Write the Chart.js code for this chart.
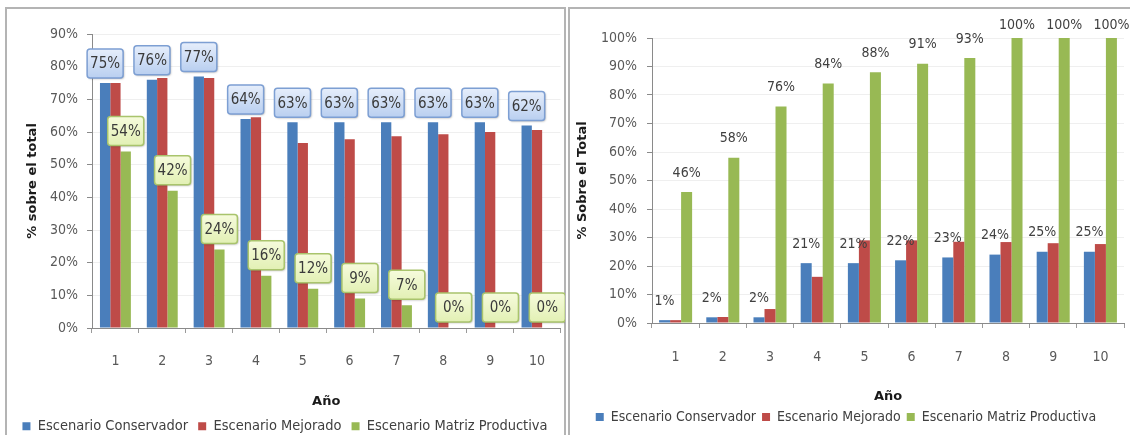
<!DOCTYPE html>
<html>
<head>
<meta charset="utf-8">
<script src="https://cdn.jsdelivr.net/npm/chart.js@4/dist/chart.umd.min.js"></script>
<style>
  html, body { margin: 0; padding: 0; background: #fff; }
  body { width: 1130px; height: 435px; position: relative; overflow: hidden; }
  .marco { position: absolute; border: 2px solid #b4b4b4; box-sizing: border-box; }
  .caja { position: absolute; }
</style>
</head>
<body>
<div class="marco" style="left:5px; top:7px; width:561px; height:440px;"></div>
<div class="marco" style="left:568px; top:7px; width:570px; height:440px;"></div>
<div class="caja" style="left:5px; top:8px; width:560px; height:427px;"><canvas id="graficoIzq"></canvas></div>
<div class="caja" style="left:568px; top:8px; width:562px; height:427px;"><canvas id="graficoDer"></canvas></div>
<script>
// datos
const anios = ["1", "2", "3", "4", "5", "6", "7", "8", "9", "10"];

// gráfico izquierdo
const izqConservador = [75, 76, 77, 64, 63, 63, 63, 63, 63, 62];
const izqMejorado = [75, 76.5, 76.5, 64.5, 56.6, 57.8, 58.7, 59.3, 60, 60.6];
const izqMatriz = [54, 42, 24, 16, 12, 9, 7, 0, 0, 0];

// gráfico derecho
const derConservador = [1, 2, 2, 21, 21, 22, 23, 24, 25, 25];
const derMejorado = [1, 2.1, 4.9, 16.2, 29, 29, 28.5, 28.4, 28, 27.7];
const derMatriz = [46, 58, 76, 84, 88, 91, 93, 100, 100, 100];

const COR_AZUL = "#4a7ebb";
const COR_ROJO = "#be4b48";
const COR_VERDE = "#98b954";

const FUENTE = "'Liberation Sans Narrow', 'DejaVu Sans Condensed', 'Liberation Sans', sans-serif";
const FUENTE_TITULO = "'DejaVu Sans', sans-serif";

// etiquetas de valor (cajas estilo Excel o texto simple)
const etiquetasValor = {
    id: "etiquetasValor",
    afterDatasetsDraw(chart, args, opts) {
        const ctx = chart.ctx;
        (opts.series || []).forEach(s => {
            const meta = chart.getDatasetMeta(s.indice);
            const datos = chart.data.datasets[s.indice].data;
            meta.data.forEach((barra, i) => {
                const texto = Math.round(datos[i]) + "%";
                const x = barra.x + (s.dx || 0);
                ctx.save();
                ctx.textAlign = "center";
                ctx.textBaseline = "middle";
                if (s.estilo === "texto") {
                    // excel no deja salir la etiqueta del área del gráfico
                    const y = Math.max(barra.y - s.separacion, chart.chartArea.top - 13);
                    ctx.font = "14px " + FUENTE;
                    ctx.fillStyle = "#404040";
                    ctx.fillText(texto, x, y);
                } else {
                    const w = 36, h = 29;
                    const abajo = barra.y - s.separacion;
                    const arriba = abajo - h;
                    const grad = ctx.createLinearGradient(0, arriba, 0, abajo);
                    grad.addColorStop(0, s.relleno[0]);
                    grad.addColorStop(1, s.relleno[1]);
                    ctx.shadowColor = "rgba(0,0,0,0.3)";
                    ctx.shadowOffsetX = 1;
                    ctx.shadowOffsetY = 1;
                    ctx.shadowBlur = 2;
                    ctx.beginPath();
                    ctx.roundRect(x - w / 2, arriba, w, h, 3);
                    ctx.fillStyle = grad;
                    ctx.fill();
                    ctx.shadowColor = "transparent";
                    ctx.lineWidth = 1.5;
                    ctx.strokeStyle = s.borde;
                    ctx.stroke();
                    ctx.font = "15px " + FUENTE;
                    ctx.fillStyle = "#3a3a3a";
                    ctx.fillText(texto, x, arriba + h / 2 + 1);
                }
                ctx.restore();
            });
        });
    }
};

function crearGrafico(id, cfg) {
    const ctx = document.getElementById(id);
    return new Chart(ctx, {
        type: "bar",
        data: {
            labels: anios,
            datasets: [
                { label: "Escenario Conservador", data: cfg.conservador, backgroundColor: COR_AZUL },
                { label: "Escenario Mejorado", data: cfg.mejorado, backgroundColor: COR_ROJO },
                { label: "Escenario Matriz Productiva", data: cfg.matriz, backgroundColor: COR_VERDE }
            ]
        },
        options: {
            responsive: true,
            maintainAspectRatio: false,
            animation: false,
            datasets: { bar: { categoryPercentage: cfg.catPct, barPercentage: 1 } },
            layout: { padding: cfg.padding },
            plugins: {
                tooltip: { enabled: false },
                legend: {
                    position: "bottom",
                    maxHeight: cfg.legendaAlto,
                    labels: {
                        boxWidth: 8,
                        boxHeight: 8,
                        padding: cfg.legendaPad,
                        color: "#404040",
                        font: { family: FUENTE, size: cfg.legendaFuente }
                    }
                },
                etiquetasValor: { series: cfg.etiquetas }
            },
            scales: {
                x: {
                    grid: { display: true, drawOnChartArea: false, tickLength: 5, color: "#9a9a9a" },
                    border: { color: "#8a8a8a" },
                    ticks: { color: "#595959", padding: cfg.xPad, font: { family: FUENTE, size: 14 } },
                    title: {
                        display: true, text: "Año", color: "#1a1a1a",
                        padding: { top: 0, bottom: 0 },
                        font: { family: FUENTE_TITULO, size: 13, weight: "bold" }
                    },
                    afterFit: s => { s.height = cfg.xAlto; }
                },
                y: {
                    min: 0, max: cfg.yMax,
                    grid: { color: "#efefef", tickLength: 5, tickColor: "#8a8a8a" },
                    border: { color: "#8a8a8a" },
                    ticks: {
                        stepSize: 10, color: "#595959", padding: cfg.yPad,
                        font: { family: FUENTE, size: 14 },
                        callback: v => v + "%"
                    },
                    title: {
                        display: true, text: cfg.yTitulo, color: "#1a1a1a",
                        padding: { top: cfg.yTituloPad, bottom: 0 },
                        font: { family: FUENTE_TITULO, size: 13, weight: "bold" }
                    },
                    afterFit: s => { s.width = cfg.yAncho; }
                }
            }
        },
        plugins: [etiquetasValor]
    });
}

crearGrafico("graficoIzq", {
    conservador: izqConservador, mejorado: izqMejorado, matriz: izqMatriz,
    catPct: 0.66, yMax: 90, yTitulo: "% sobre el total",
    padding: { top: 26, left: 0, right: 0, bottom: 0 },
    yAncho: 87, yPad: 9, yTituloPad: 20,
    xAlto: 81, xPad: 20, legendaAlto: 26, legendaFuente: 14.5, legendaPad: 10,
    etiquetas: [
        { indice: 0, estilo: "caja", separacion: 5, relleno: ["#e6eefb", "#b9cff0"], borde: "#7d9fd3" },
        { indice: 2, estilo: "caja", separacion: 6, relleno: ["#f6fbdc", "#e2f0b4"], borde: "#a9c46c" }
    ]
});

crearGrafico("graficoDer", {
    conservador: derConservador, mejorado: derMejorado, matriz: derMatriz,
    catPct: 0.7, yMax: 100, yTitulo: "% Sobre el Total",
    padding: { top: 30, left: 0, right: 6, bottom: 5 },
    yAncho: 84, yPad: 10, yTituloPad: 7,
    xAlto: 81, xPad: 21, legendaAlto: 26, legendaFuente: 14, legendaPad: 6,
    etiquetas: [
        { indice: 0, estilo: "texto", separacion: 19 },
        { indice: 2, estilo: "texto", separacion: 19 }
    ]
});
</script>
</body>
</html>
